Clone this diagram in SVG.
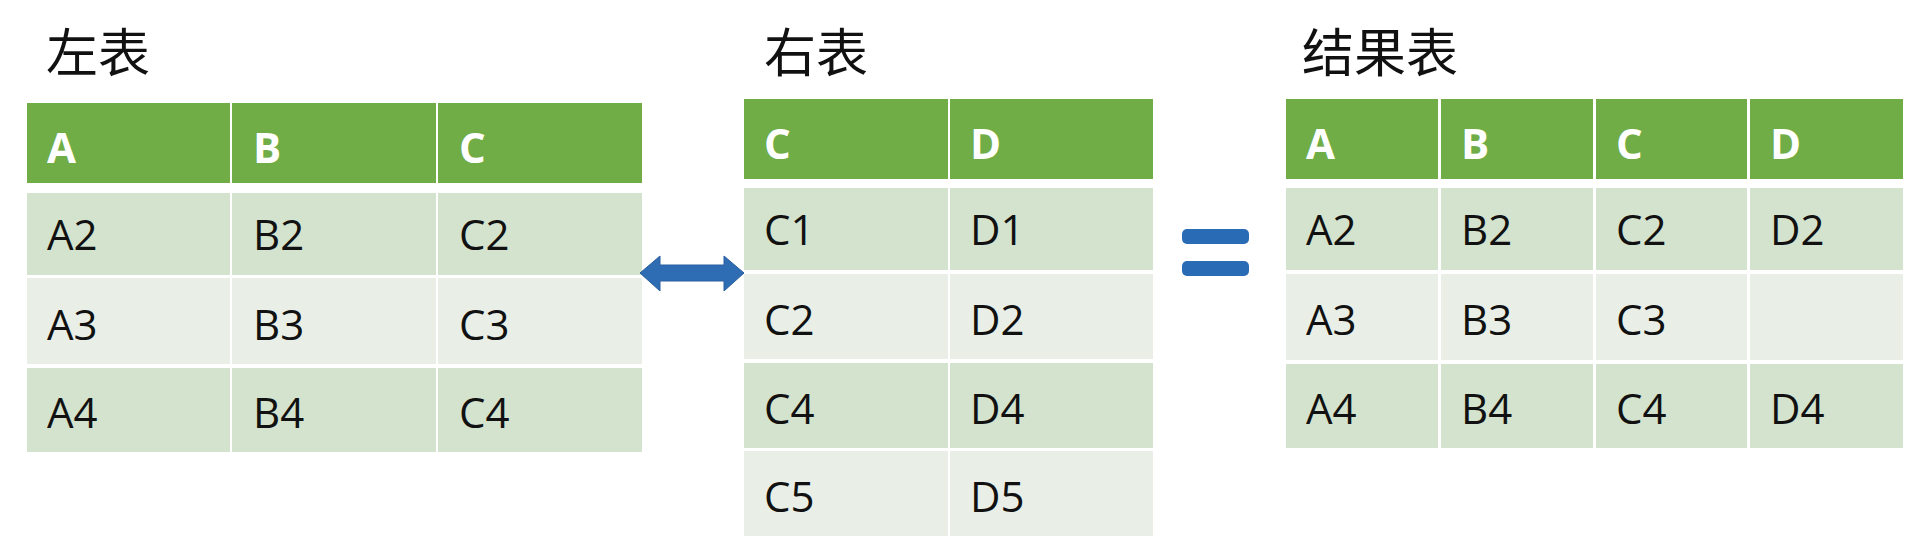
<svg xmlns="http://www.w3.org/2000/svg" width="1920" height="557" viewBox="0 0 1920 557">
<style>
.t{font-family:"Noto Sans CJK SC",sans-serif;font-size:52px;fill:#111}
.h{fill:#70AD47}
.d{fill:#D4E3CE}
.l{fill:#E9EFE7}
.ht{font-family:"Open Sans","Liberation Sans",sans-serif;font-weight:bold;font-size:42px;fill:#fff}
.ct{font-family:"Open Sans","Liberation Sans",sans-serif;font-size:42px;fill:#111}
</style>
<rect width="1920" height="557" fill="#fff"/>
<g id="left">
<text class="t" x="46" y="72">左表</text>
<rect class="h" x="27" y="103" width="203" height="80"/><rect class="h" x="232" y="103" width="204" height="80"/><rect class="h" x="438" y="103" width="204" height="80"/>
<rect class="d" x="27" y="193" width="203" height="82"/><rect class="d" x="232" y="193" width="204" height="82"/><rect class="d" x="438" y="193" width="204" height="82"/>
<rect class="l" x="27" y="278" width="203" height="86"/><rect class="l" x="232" y="278" width="204" height="86"/><rect class="l" x="438" y="278" width="204" height="86"/>
<rect class="d" x="27" y="368" width="203" height="84"/><rect class="d" x="232" y="368" width="204" height="84"/><rect class="d" x="438" y="368" width="204" height="84"/>
<text class="ht" x="47" y="163">A</text><text class="ht" x="253" y="163">B</text><text class="ht" x="459" y="163">C</text>
<text class="ct" x="47" y="250">A2</text><text class="ct" x="253" y="250">B2</text><text class="ct" x="459" y="250">C2</text>
<text class="ct" x="47" y="340">A3</text><text class="ct" x="253" y="340">B3</text><text class="ct" x="459" y="340">C3</text>
<text class="ct" x="47" y="428">A4</text><text class="ct" x="253" y="428">B4</text><text class="ct" x="459" y="428">C4</text>
</g>
<g id="right">
<text class="t" x="764" y="72">右表</text>
<rect class="h" x="744" y="99" width="204" height="80"/><rect class="h" x="950" y="99" width="203" height="80"/>
<rect class="d" x="744" y="188" width="204" height="82"/><rect class="d" x="950" y="188" width="203" height="82"/>
<rect class="l" x="744" y="274" width="204" height="85"/><rect class="l" x="950" y="274" width="203" height="85"/>
<rect class="d" x="744" y="363" width="204" height="85"/><rect class="d" x="950" y="363" width="203" height="85"/>
<rect class="l" x="744" y="451" width="204" height="85"/><rect class="l" x="950" y="451" width="203" height="85"/>
<text class="ht" x="764" y="159">C</text><text class="ht" x="970" y="159">D</text>
<text class="ct" x="764" y="245">C1</text><text class="ct" x="970" y="245">D1</text>
<text class="ct" x="764" y="335">C2</text><text class="ct" x="970" y="335">D2</text>
<text class="ct" x="764" y="424">C4</text><text class="ct" x="970" y="424">D4</text>
<text class="ct" x="764" y="512">C5</text><text class="ct" x="970" y="512">D5</text>
</g>
<g id="result">
<text class="t" x="1302" y="72">结果表</text>
<rect class="h" x="1286" y="99" width="152" height="80"/><rect class="h" x="1441" y="99" width="152" height="80"/><rect class="h" x="1596" y="99" width="151" height="80"/><rect class="h" x="1750" y="99" width="153" height="80"/>
<rect class="d" x="1286" y="188" width="152" height="82"/><rect class="d" x="1441" y="188" width="152" height="82"/><rect class="d" x="1596" y="188" width="151" height="82"/><rect class="d" x="1750" y="188" width="153" height="82"/>
<rect class="l" x="1286" y="274" width="152" height="86"/><rect class="l" x="1441" y="274" width="152" height="86"/><rect class="l" x="1596" y="274" width="151" height="86"/><rect class="l" x="1750" y="274" width="153" height="86"/>
<rect class="d" x="1286" y="364" width="152" height="84"/><rect class="d" x="1441" y="364" width="152" height="84"/><rect class="d" x="1596" y="364" width="151" height="84"/><rect class="d" x="1750" y="364" width="153" height="84"/>
<text class="ht" x="1306" y="159">A</text><text class="ht" x="1461" y="159">B</text><text class="ht" x="1616" y="159">C</text><text class="ht" x="1770" y="159">D</text>
<text class="ct" x="1306" y="245">A2</text><text class="ct" x="1461" y="245">B2</text><text class="ct" x="1616" y="245">C2</text><text class="ct" x="1770" y="245">D2</text>
<text class="ct" x="1306" y="335">A3</text><text class="ct" x="1461" y="335">B3</text><text class="ct" x="1616" y="335">C3</text>
<text class="ct" x="1306" y="424">A4</text><text class="ct" x="1461" y="424">B4</text><text class="ct" x="1616" y="424">C4</text><text class="ct" x="1770" y="424">D4</text>
</g>
<g id="connectors">
<path d="M640,273 L660,256 L660,265 L724,265 L724,256 L744,273 L724,291 L724,281 L660,281 L660,291 Z" fill="#2E6DB4" stroke="#2A5F9E" stroke-width="1"/>
<rect x="1182" y="229" width="67" height="15" rx="5" fill="#2A6BB5"/>
<rect x="1182" y="261" width="67" height="15" rx="5" fill="#2A6BB5"/>
</g>
</svg>
